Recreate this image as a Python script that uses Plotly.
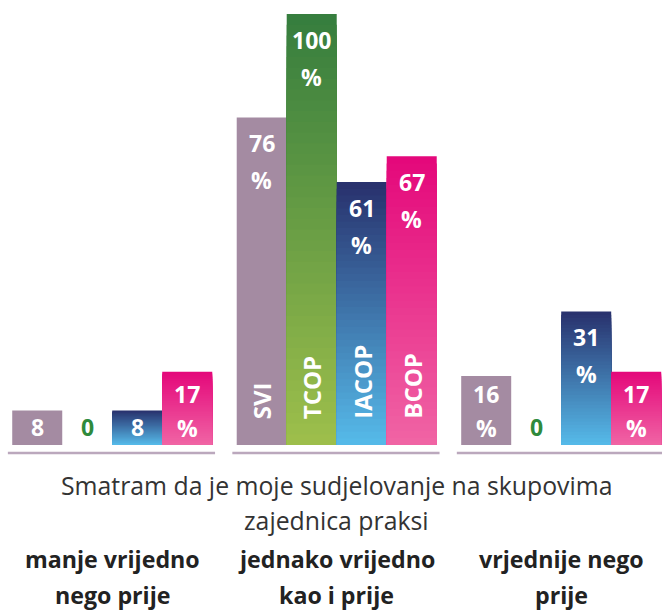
import plotly.graph_objects as go

# ---------------- data ----------------
categories = ["manje vrijedno nego prije", "jednako vrijedno kao i prije", "vrjednije nego prije"]
category_lines = [["manje vrijedno", "nego prije"], ["jednako vrijedno", "kao i prije"], ["vrjednije nego", "prije"]]
series_names = ["SVI", "TCOP", "IACOP", "BCOP"]
svi = [8, 76, 16]
tcop = [0, 100, 0]
iacop = [8, 61, 31]
bcop = [17, 67, 17]
title_lines = ["Smatram da je moje sudjelovanje na skupovima", "zajednica praksi"]

series_values = [svi, tcop, iacop, bcop]
# (top colour, bottom colour) for each series
series_colors = [
    ("#a48ba2", "#a48ba2"),
    ("#357d3e", "#9ebf4b"),
    ("#28306c", "#56bbea"),
    ("#e4077a", "#f065a5"),
]
zero_color = "#2f8a3c"
axis_line_color = "#bba8bd"

FONT = "Open Sans"
W, H = 662, 610
M_T, M_B = 14, 165
PLOT_H = H - M_T - M_B
Y_MAX = 100
BARGAP = 0.109
N_STEPS = 40


def hex2rgb(h):
    h = h.lstrip("#")
    return tuple(int(h[i:i + 2], 16) for i in (0, 2, 4))


def mix(c1, c2, t):
    a, b = hex2rgb(c1), hex2rgb(c2)
    return "rgb(%d,%d,%d)" % tuple(round(a[i] + (b[i] - a[i]) * t) for i in range(3))


fig = go.Figure()
for name, vals, (ctop, cbot) in zip(series_names, series_values, series_colors):
    steps = 1 if ctop == cbot else N_STEPS
    for k in range(steps):
        frac = 1 - k / steps
        t = (k + 0.5) / steps if steps > 1 else 0
        fig.add_trace(go.Bar(
            x=categories, y=[v * frac for v in vals], name=name,
            offsetgroup=name, marker=dict(color=mix(ctop, cbot, t), line=dict(width=0)),
            showlegend=False, hoverinfo="skip" if k else "x+y",
        ))

annotations = []
bw = (1 - BARGAP) / len(series_names)
ppu = PLOT_H / Y_MAX
label_font = dict(family=FONT, size=23, color="white", weight="bold")
for si, (name, vals) in enumerate(zip(series_names, series_values)):
    for gi, v in enumerate(vals):
        xpos = gi + (si - (len(series_names) - 1) / 2) * bw
        h = v * ppu
        if v == 0:
            annotations.append(dict(x=xpos, y=0, yshift=18, text="0", showarrow=False,
                                    yanchor="middle", font=dict(family=FONT, size=23, color=zero_color, weight="bold")))
        elif h < 45:
            annotations.append(dict(x=xpos, y=0, yshift=18, text=str(v), showarrow=False,
                                    yanchor="middle", font=label_font))
        else:
            annotations.append(dict(x=xpos, y=0, yshift=max(h - 26, 51), text=str(v), showarrow=False,
                                    yanchor="middle", font=label_font))
            annotations.append(dict(x=xpos, y=0, yshift=max(h - 63, 17), text="%", showarrow=False,
                                    yanchor="middle", font=label_font))
        if gi == 1:
            annotations.append(dict(x=xpos, y=0, yshift=24, text=name, textangle=-90, showarrow=False,
                                    yanchor="bottom", font=dict(family=FONT, size=24, color="white", weight="bold")))

# title text below the axis, centred on the middle group
for li, line in enumerate(title_lines):
    annotations.append(dict(x=1, xref="x", y=0, yref="paper", yshift=-40 - 35 * li, text=line,
                            showarrow=False, yanchor="middle",
                            font=dict(family=FONT, size=24.8, color="#333333")))
# category labels
for gi, lines in enumerate(category_lines):
    for li, line in enumerate(lines):
        annotations.append(dict(x=gi, xref="x", y=0, yref="paper", yshift=-114 - 36 * li, text=line,
                                showarrow=False, yanchor="middle",
                                font=dict(family=FONT, size=23.2, color="#222222", weight="bold")))

shapes = []
for gi in range(len(categories)):
    shapes.append(dict(type="line", xref="x", yref="paper", x0=gi - 0.465, x1=gi + 0.458,
                       y0=-8 / PLOT_H, y1=-8 / PLOT_H, line=dict(color=axis_line_color, width=2.5)))

fig.update_layout(
    width=W, height=H,
    margin=dict(l=0, r=0, t=M_T, b=M_B),
    paper_bgcolor="white", plot_bgcolor="white",
    barmode="group", bargap=BARGAP, bargroupgap=0,
    xaxis=dict(range=[-0.5, 2.449], showticklabels=False, showgrid=False, zeroline=False,
               showline=False, ticks="", fixedrange=True),
    yaxis=dict(range=[0, Y_MAX], visible=False, showgrid=False, zeroline=False, fixedrange=True),
    annotations=annotations, shapes=shapes, showlegend=False,
)

fig.write_html("out.html", config={"displayModeBar": False},
               post_script="document.body.style.margin='0';document.body.style.overflow='hidden';")
